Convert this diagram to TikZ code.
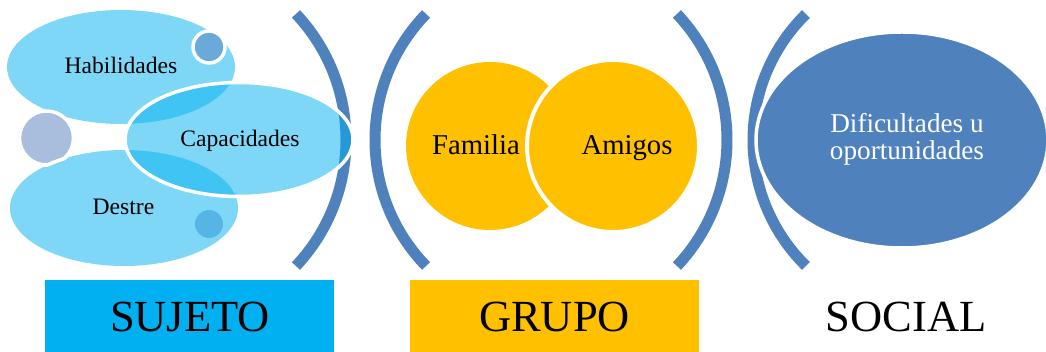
\documentclass[tikz,border=0pt]{standalone}
\usepackage{fontspec}
\setmainfont{Liberation Serif}
\definecolor{pblue}{HTML}{4F81BD}
\definecolor{cyanb}{RGB}{0,176,240}
\definecolor{gold}{HTML}{FFC000}
\definecolor{grayb}{HTML}{A8BEDC}
\definecolor{dotA}{HTML}{6AAAD9}
\definecolor{dotB}{HTML}{56B5E5}
\begin{document}
\begin{tikzpicture}[x=1pt,y=1pt,
  paren/.style={draw=pblue,line width=11pt},
  blob/.style={fill=cyanb,fill opacity=0.5},
  smalltxt/.style={anchor=base,font=\fontsize{23.6}{26}\selectfont,text=black},
  midtxt/.style={anchor=base,font=\fontsize{28.7}{30}\selectfont,text=black},
  soctxt/.style={anchor=base,font=\fontsize{27.2}{30}\selectfont,text=white},
  bigtxt/.style={anchor=base,font=\fontsize{44.5}{48}\selectfont,text=black},
  labelbox/.style={anchor=south west,minimum width=289pt,minimum height=72pt,inner sep=0pt}]
\useasboundingbox (0,0) rectangle (1046,352);
\clip (0,0) rectangle (1046,352);
% brackets
\draw[paren] (162.2,212) ++(43.3:183.8) arc[start angle=43.3,end angle=-43.3,radius=183.8];
\draw[paren] (556.1,212) ++(135.9:181.1) arc[start angle=135.9,end angle=224.1,radius=181.1];
\draw[paren] (543.2,212) ++(43.3:183.8) arc[start angle=43.3,end angle=-43.3,radius=183.8];
\draw[paren] (929.3,212) ++(134.4:176.3) arc[start angle=134.4,end angle=225.6,radius=176.3];
% sujeto blobs
\fill[blob] (121,285) ellipse[x radius=114,y radius=57];
\draw[white,line width=3.5pt,fill=dotA] (209,305) circle[radius=16];
\draw[white,line width=3.5pt,fill=grayb] (46.5,214) circle[radius=27];
\fill[blob] (124,144) ellipse[x radius=114,y radius=58];
\begin{scope}
  \clip (46.5,214) circle[radius=29];
  \draw[white,line width=3.5pt] (124,144) ellipse[x radius=114,y radius=58];
\end{scope}
\fill[dotB] (209,128) circle[radius=14];
\draw[white,line width=3.5pt,blob] (239,212.5) ellipse[x radius=114,y radius=57];
\node[smalltxt] (hab) at (121,278) {Habilidades};
\node[smalltxt] (cap) at (240,205) {Capacidades};
\node[smalltxt] (des) at (123.5,137) {Destre};
% grupo
\fill[gold] (490,206) circle[radius=84];
\draw[white,line width=4pt,fill=gold] (613,206) circle[radius=86];
\node[midtxt] (fam) at (476,197) {Familia};
\node[midtxt] (ami) at (627,197) {Amigos};
% social
\draw[white,line width=3.5pt,fill=pblue] (902,212) ellipse[x radius=146,y radius=108];
\node[soctxt] (dif1) at (907,219) {Dificultades u};
\node[soctxt] (dif2) at (907,192) {oportunidades};
% bottom labels
\node[labelbox,fill=cyanb] (bsuj) at (45,0) {};
\node[labelbox,fill=gold] (bgru) at (410,0) {};
\node[bigtxt] (suj) at (190,20) {SUJETO};
\node[bigtxt] (gru) at (554.5,20) {GRUPO};
\node[bigtxt] (soc) at (906,20) {SOCIAL};
\end{tikzpicture}
\end{document}
